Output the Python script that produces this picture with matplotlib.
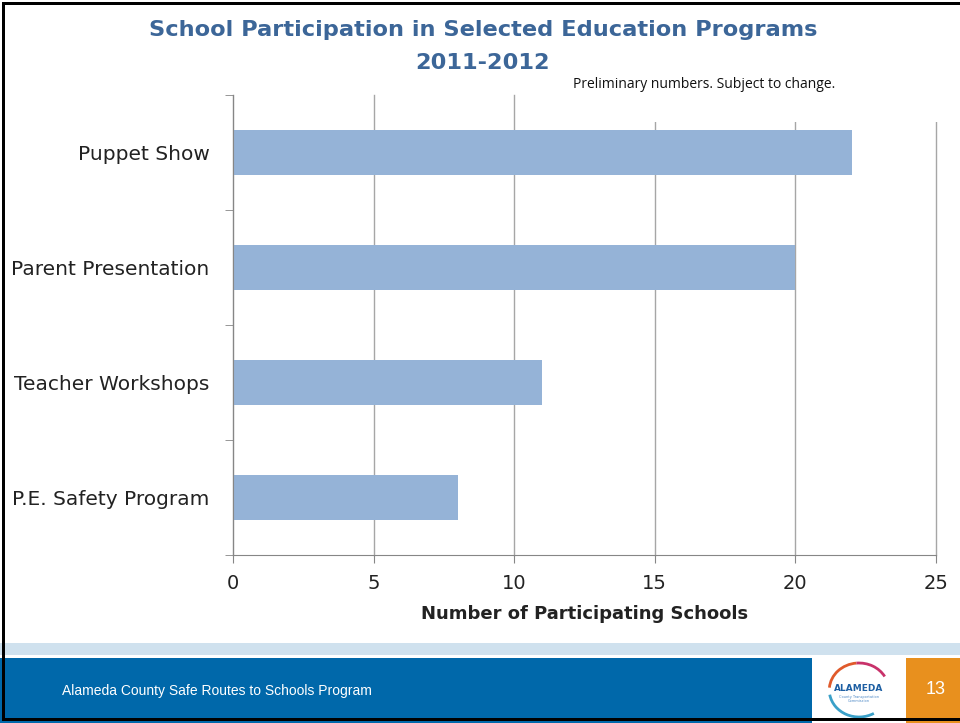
import matplotlib.pyplot as plt
from matplotlib.patches import Rectangle, Arc

# data
programs = ["P.E. Safety Program", "Teacher Workshops", "Parent Presentation", "Puppet Show"]
schools = [8, 11, 20, 22]
x_ticks = [0, 5, 10, 15, 20, 25]

W, H = 960, 723
fig = plt.figure(figsize=(9.6, 7.23), dpi=100)


def px(x0, y0, x1, y1):
    # pixel box (top-left origin) -> figure fraction rect
    return (x0 / W, 1 - y1 / H, (x1 - x0) / W, (y1 - y0) / H)


ax = fig.add_axes(px(233, 95, 936, 555))
ax.barh(range(len(programs)), schools, height=0.39, color="#95b3d7", zorder=2)

ax.set_xlim(0, 25)
ax.set_ylim(-0.5, len(programs) - 0.5)
ax.set_xticks(x_ticks)
ax.set_xticklabels([str(t) for t in x_ticks], fontsize=14, color="#222222")
ax.set_yticks(range(len(programs)))
ax.set_yticklabels(programs, fontsize=14.5, color="#222222")
ax.tick_params(axis="y", length=0, pad=17)
ax.tick_params(axis="x", length=6, color="#868686", pad=8)

# category boundary ticks on the left
ax.set_yticks([i - 0.5 for i in range(len(programs) + 1)], minor=True)
ax.tick_params(axis="y", which="minor", length=6, color="#868686", direction="out")

ax.grid(axis="x", color="#a6a6a6", linewidth=1, zorder=0)
for gl in ax.get_xgridlines():
    gl.set_clip_on(False)
for s in ["top", "right"]:
    ax.spines[s].set_visible(False)
for s in ["left", "bottom"]:
    ax.spines[s].set_color("#868686")
ax.set_xlabel("Number of Participating Schools", fontsize=13, fontweight="bold",
              color="#222222", labelpad=8)

# title
fig.text(483 / W, 1 - 30 / H, "School Participation in Selected Education Programs",
         ha="center", va="center", fontsize=16.2, fontweight="bold", color="#3c6698")
fig.text(483 / W, 1 - 63 / H, "2011-2012",
         ha="center", va="center", fontsize=16.2, fontweight="bold", color="#3c6698")

# note box hides gridlines under it
fig.patches.append(Rectangle((560 / W, 1 - 122 / H), 400 / W, 52 / H,
                             transform=fig.transFigure, facecolor="white",
                             edgecolor="none", zorder=5))
fig.text(573 / W, 1 - 84 / H, "Preliminary numbers. Subject to change.",
         ha="left", va="center", fontsize=10, family="Open Sans", color="#111111", zorder=6)

# footer
fig.patches.append(Rectangle(px(0, 643, 960, 655)[:2], 960 / W, 12 / H,
                             transform=fig.transFigure, facecolor="#cfe1ee",
                             edgecolor="none", zorder=1))
fig.patches.append(Rectangle(px(0, 658, 812, 723)[:2], 812 / W, 65 / H,
                             transform=fig.transFigure, facecolor="#0068aa",
                             edgecolor="none", zorder=1))
fig.patches.append(Rectangle(px(906, 658, 960, 723)[:2], 54 / W, 65 / H,
                             transform=fig.transFigure, facecolor="#e8901e",
                             edgecolor="none", zorder=1))
fig.text(62 / W, 1 - 691 / H, "Alameda County Safe Routes to Schools Program",
         ha="left", va="center", fontsize=10, family="Liberation Sans", color="white")
fig.text(936 / W, 1 - 689 / H, "13", ha="center", va="center", fontsize=13,
         family="Liberation Sans", color="white")

# small logo
logo = fig.add_axes(px(826, 660, 892, 720))
logo.set_xlim(-1, 1)
logo.set_ylim(-1, 1)
logo.axis("off")
logo.add_patch(Arc((0, 0), 1.8, 1.8, theta1=95, theta2=175, color="#e05a2b", lw=2))
logo.add_patch(Arc((0, 0), 1.8, 1.8, theta1=30, theta2=95, color="#c8326a", lw=2))
logo.add_patch(Arc((0, 0), 1.8, 1.8, theta1=190, theta2=300, color="#3aa0c8", lw=2))
logo.text(0, 0.05, "ALAMEDA", ha="center", va="center", fontsize=6.5,
          fontweight="bold", color="#1d5fa3")
logo.text(0, -0.3, "County Transportation\nCommission", ha="center",
          va="center", fontsize=2.5, color="#4a86c5", linespacing=1)

# slide border (left, top, bottom)
for (x0, y0, x1, y1) in [(2, 2, 5, 721), (2, 2, 960, 5), (2, 718, 960, 721)]:
    fig.patches.append(Rectangle(px(x0, y0, x1, y1)[:2], (x1 - x0) / W, (y1 - y0) / H,
                                 transform=fig.transFigure, facecolor="black",
                                 edgecolor="none", zorder=7))

fig.savefig("out.png", dpi=100)
